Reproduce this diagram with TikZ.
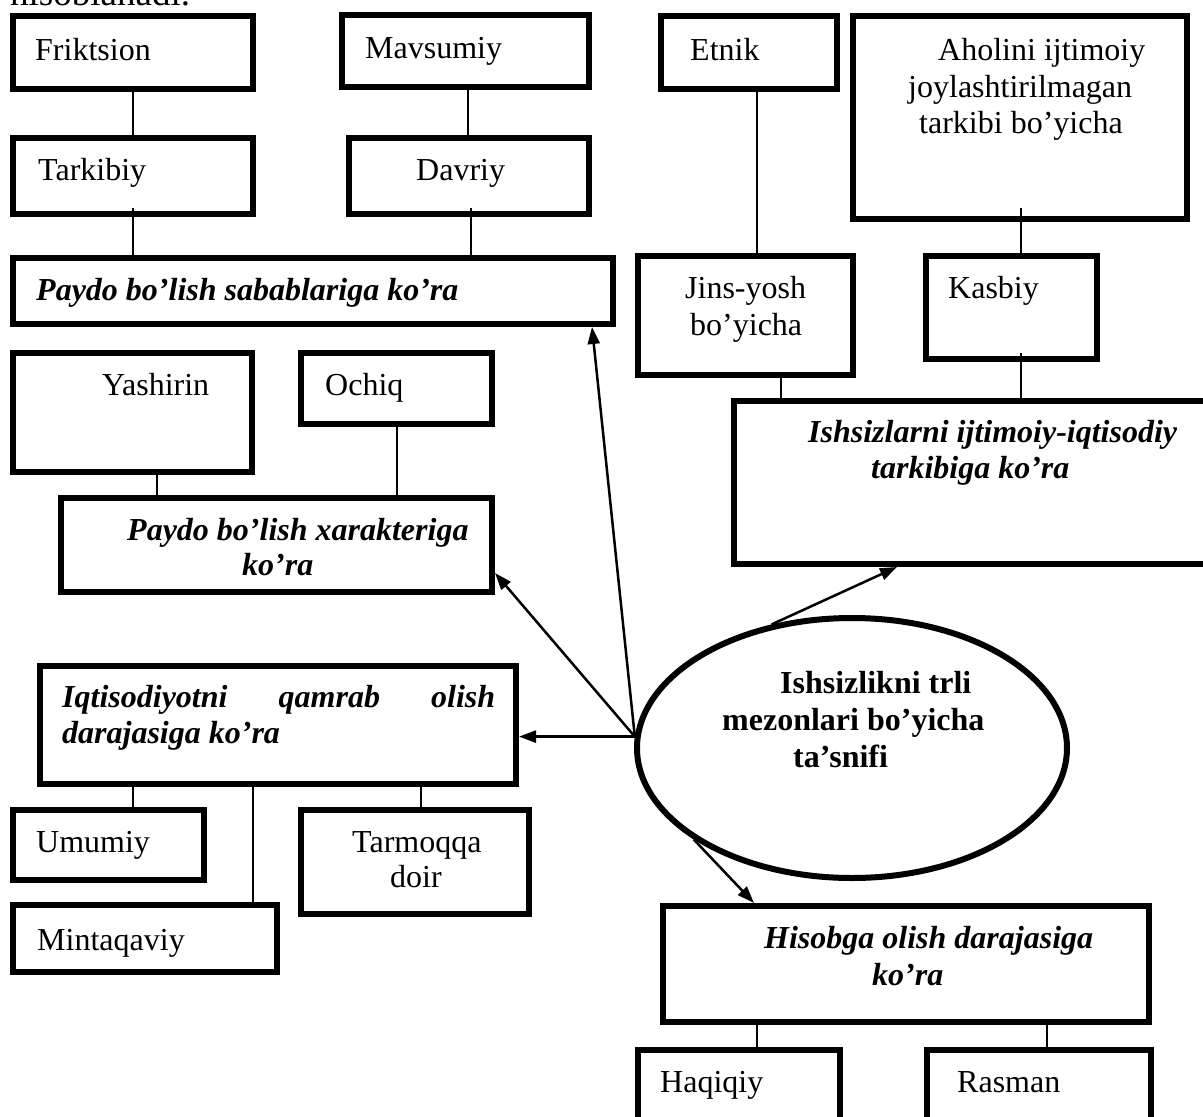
\documentclass[tikz,border=0pt]{standalone}
\usepackage{fontspec}
\setmainfont{Liberation Serif}
\usetikzlibrary{arrows.meta,shapes.geometric,calc}

% framed box given by its outer corners: name, x1, y1, x2, y2
\newcommand\frameat[5]{%
  \pgfmathsetmacro\bw{#4-#2-6}%
  \pgfmathsetmacro\bh{#5-#3-6}%
  \node[frame, anchor=north west, minimum width=\bw pt, minimum height=\bh pt] (#1) at (#2,#3) {};}

\begin{document}
\begin{tikzpicture}[x=1pt,y=-1pt,
  frame/.style={draw, rectangle, line width=6pt, inner sep=0pt},
  link/.style={line width=2pt},
  arr/.style={line width=2.5pt, -{Triangle[length=17pt,width=12pt]}},
  txt/.style={inner sep=0pt, anchor=base west, font=\fontsize{32}{36}\selectfont},
  head/.style={txt, font=\fontsize{32}{36}\selectfont\bfseries\itshape},
  core/.style={txt, font=\fontsize{32}{36}\selectfont\bfseries}]

\useasboundingbox (0,0) rectangle (1203,1117);
\clip (0,0) rectangle (1203,1117);

% running text above the chart
\node[txt, font=\fontsize{37}{42}\selectfont] (lead) at (10,5) {hisoblanadi.};

% boxes
\frameat{fr}{10}{13}{256}{92}
\frameat{mv}{339}{12}{592}{90}
\frameat{tk}{10}{135}{256}{217}
\frameat{dv}{346}{135}{592}{217}
\frameat{ps}{10}{255}{616}{327}
\frameat{et}{658}{13}{840}{92}
\frameat{ah}{850}{13}{1190}{222}
\frameat{js}{635}{253}{856}{378}
\frameat{ks}{923}{253}{1100}{362}
\frameat{is}{731}{398}{1225}{567}
\frameat{ya}{10}{350}{255}{475}
\frameat{oc}{298}{350}{495}{427}
\frameat{px}{58}{495}{495}{595}
\frameat{iq}{37}{663}{519}{787}
\frameat{um}{10}{807}{207}{883}
\frameat{tm}{298}{807}{532}{917}
\frameat{mi}{10}{902}{280}{975}
\frameat{hi}{660}{903}{1152}{1025}
\frameat{hq}{635}{1047}{843}{1140}
\frameat{ra}{924}{1047}{1154}{1140}

% central ellipse
\node[draw, ellipse, line width=6pt, inner sep=0pt,
      minimum width=430pt, minimum height=260pt] (el) at (852,748) {};

% labels
\node[txt] (frT) at (35,60) {Friktsion};
\node[txt] (mvT) at (365,58) {Mavsumiy};
\node[txt] (tkT) at (38,180) {Tarkibiy};
\node[txt] (dvT) at (416,180) {Davriy};
\node[head] (psT) at (36,300) {Paydo bo’lish sabablariga ko’ra};
\node[txt] (etT) at (690,60) {Etnik};
\node[txt] (ahT1) at (938,60) {Aholini ijtimoiy};
\node[txt] (ahT2) at (908,97) {joylashtirilmagan};
\node[txt] (ahT3) at (919,133) {tarkibi bo’yicha};
\node[txt] (jsT1) at (685,298) {Jins-yosh};
\node[txt] (jsT2) at (690,335) {bo’yicha};
\node[txt] (ksT) at (948,298) {Kasbiy};
\node[head] (isT1) at (808,442) {Ishsizlarni ijtimoiy-iqtisodiy};
\node[head] (isT2) at (871,478) {tarkibiga ko’ra};
\node[txt] (yaT) at (102,395) {Yashirin};
\node[txt] (ocT) at (325,395) {Ochiq};
\node[head] (pxT1) at (127,540) {Paydo bo’lish xarakteriga};
\node[head] (pxT2) at (242,575) {ko’ra};
\node[head] (iqT1) at (62,707) {\makebox[433pt][s]{Iqtisodiyotni qamrab olish}};
\node[head] (iqT2) at (62,743) {darajasiga ko’ra};
\node[txt] (umT) at (36,852) {Umumiy};
\node[txt] (tmT1) at (352,852) {Tarmoqqa};
\node[txt] (tmT2) at (390,887) {doir};
\node[txt] (miT) at (37,950) {Mintaqaviy};
\node[core] (elT1) at (780,693) {Ishsizlikni trli};
\node[core] (elT2) at (722,730) {mezonlari bo’yicha};
\node[core] (elT3) at (793,767) {ta’snifi};
\node[head] (hiT1) at (764,948) {Hisobga olish darajasiga};
\node[head] (hiT2) at (872,985) {ko’ra};
\node[txt] (hqT) at (660,1092) {Haqiqiy};
\node[txt] (raT) at (957,1092) {Rasman};

% tree connectors
\draw[link] (fr.south) -- (tk.north);
\draw[link] (468,0 |- mv.south) -- (468,0 |- dv.north);
\draw[link] ($(tk.south)+(0,-9)$) -- (ps.north -| tk.south);
\draw[link] ($(471,0 |- dv.south)+(0,-9)$) -- (471,0 |- ps.north);
\draw[link] (757,0 |- et.south) -- (757,0 |- js.north);
\draw[link] ($(1021,0 |- ah.south)+(0,-14)$) -- (1021,0 |- ks.north);
\draw[link] (781,0 |- js.south) -- (781,0 |- is.north);
\draw[link] ($(1021,0 |- ks.south)+(0,-9)$) -- (1021,0 |- is.north);
\draw[link] (157,0 |- ya.south) -- (157,0 |- px.north);
\draw[link] (397,0 |- oc.south) -- (397,0 |- px.north);
\draw[link] (133,0 |- iq.south) -- (133,0 |- um.north);
\draw[link] (253,0 |- iq.south) -- (253,0 |- mi.north);
\draw[link] (421,0 |- iq.south) -- (421,0 |- tm.north);
\draw[link] (757,0 |- hi.south) -- (757,0 |- hq.north);
\draw[link] (1047,0 |- hi.south) -- (1047,0 |- ra.north);

% arrows from the ellipse
\draw[arr] (el.177) -- (592,0 |- ps.south);
\draw[arr] (el.177) -- (px.east |- 0,573);
\draw[arr] (el.177) -- (iq.east |- el.177);
\draw[arr] (el.123) -- (897,0 |- is.south);
\draw[arr] (el.210) -- (754,0 |- hi.north);
\end{tikzpicture}
\end{document}
